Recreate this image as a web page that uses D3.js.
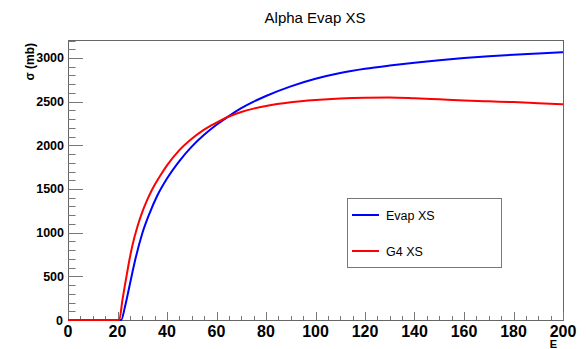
<!DOCTYPE html>
<html>
<head>
<meta charset="utf-8">
<script src="https://cdn.jsdelivr.net/npm/d3@7"></script>
<style>
  body { margin: 0; background: #fff; }
  text { font-family: "Liberation Sans", Arial, Helvetica, sans-serif; }
</style>
</head>
<body>
<div id="chart"></div>
<script>
// values
var evapE  = [0, 20, 21.5, 23, 25, 27, 30, 33, 36, 40, 45, 50, 55, 60, 65, 70, 75, 80, 90, 100, 110, 120, 130, 140, 150, 160, 170, 180, 190, 200];
var evapXS = [0, 0, 0, 150, 410, 670, 990, 1225, 1420, 1620, 1820, 1985, 2120, 2235, 2335, 2425, 2500, 2565, 2675, 2762, 2828, 2876, 2913, 2945, 2974, 2999, 3020, 3038, 3052, 3065];

var g4E  = [0, 20, 20.7, 22, 23, 24, 25, 26, 28, 30, 32, 34, 37, 40, 45, 50, 55, 60, 65, 70, 75, 80, 90, 100, 110, 120, 130, 140, 150, 160, 170, 180, 190, 200];
var g4XS = [0, 0, 0, 230, 400, 560, 715, 850, 1065, 1235, 1375, 1495, 1640, 1770, 1945, 2075, 2180, 2260, 2330, 2382, 2420, 2450, 2492, 2518, 2536, 2546, 2549, 2540, 2527, 2514, 2504, 2495, 2483, 2470];

var xTicks = [0, 20, 40, 60, 80, 100, 120, 140, 160, 180, 200];
var yTicks = [0, 500, 1000, 1500, 2000, 2500, 3000];
var legendNames = ["Evap XS", "G4 XS"];

var width = 586, height = 349;
var mLeft = 68, mRight = 563, mTop = 40, mBottom = 320;

var svg = d3.select("#chart").append("svg")
    .attr("width", width)
    .attr("height", height);

var x = d3.scaleLinear().domain([0, 200]).range([mLeft, mRight]);
var y = d3.scaleLinear().domain([0, 3206]).range([mBottom, mTop]);

// frame
svg.append("rect")
    .attr("x", mLeft + 0.5).attr("y", mTop + 0.5)
    .attr("width", mRight - mLeft).attr("height", mBottom - mTop)
    .attr("fill", "none").attr("stroke", "#666").attr("stroke-width", 1);

// x ticks (minor every 5)
var g = svg.append("g");
d3.range(0, 201, 5).forEach(function(v) {
    var major = v % 20 == 0;
    g.append("line")
        .attr("x1", Math.round(x(v)) + 0.5).attr("x2", Math.round(x(v)) + 0.5)
        .attr("y1", mBottom).attr("y2", mBottom - (major ? 8 : 4))
        .attr("stroke", "#777");
});
// y ticks (minor every 100)
d3.range(0, 3201, 100).forEach(function(v) {
    var major = v % 500 == 0;
    g.append("line")
        .attr("x1", mLeft).attr("x2", mLeft + (major ? 15 : 7.5))
        .attr("y1", Math.round(y(v)) + 0.5).attr("y2", Math.round(y(v)) + 0.5)
        .attr("stroke", "#777");
});

svg.selectAll(".xl").data(xTicks).enter().append("text")
    .attr("x", function(d) { return x(d); })
    .attr("y", 337)
    .attr("text-anchor", "middle")
    .attr("font-size", "16px").attr("font-weight", "bold")
    .text(function(d) { return d; });

svg.selectAll(".yl").data(yTicks).enter().append("text")
    .attr("x", function(d) { return d == 0 ? 63 : 64; })
    .attr("y", function(d) { return y(d) + 4.5; })
    .attr("text-anchor", "end")
    .attr("font-size", "12.5px").attr("font-weight", "bold")
    .text(function(d) { return d; });

// titles
svg.append("text")
    .attr("x", 315).attr("y", 23)
    .attr("text-anchor", "middle")
    .attr("font-size", "15px")
    .text("Alpha Evap XS");

svg.append("text")
    .attr("x", 557).attr("y", 348)
    .attr("text-anchor", "end")
    .attr("font-size", "11px").attr("font-weight", "bold")
    .text("E");

svg.append("text")
    .attr("transform", "translate(34,43) rotate(-90)")
    .attr("text-anchor", "end")
    .attr("font-size", "12px").attr("font-weight", "bold")
    .text("σ (mb)");

// curves
var line = d3.line()
    .curve(d3.curveMonotoneX)
    .x(function(d) { return x(d[0]); })
    .y(function(d) { return y(d[1]); });

svg.append("path")
    .datum(d3.zip(evapE, evapXS))
    .attr("d", line)
    .attr("fill", "none").attr("stroke", "#0000ff").attr("stroke-width", 2);

svg.append("path")
    .datum(d3.zip(g4E, g4XS))
    .attr("d", line)
    .attr("fill", "none").attr("stroke", "#ff0000").attr("stroke-width", 2);

// legend
var leg = svg.append("g");
leg.append("rect")
    .attr("x", 347.5).attr("y", 198.5).attr("width", 154).attr("height", 69)
    .attr("fill", "#fff").attr("stroke", "#777");
var colors = ["#0000ff", "#ff0000"];
legendNames.forEach(function(n, i) {
    var ly = 215 + i * 36;
    leg.append("line")
        .attr("x1", 352).attr("x2", 379).attr("y1", ly).attr("y2", ly)
        .attr("stroke", colors[i]).attr("stroke-width", 2);
    leg.append("text")
        .attr("x", 386).attr("y", ly + 4.5)
        .attr("font-size", "12.5px")
        .text(n);
});
</script>
</body>
</html>
